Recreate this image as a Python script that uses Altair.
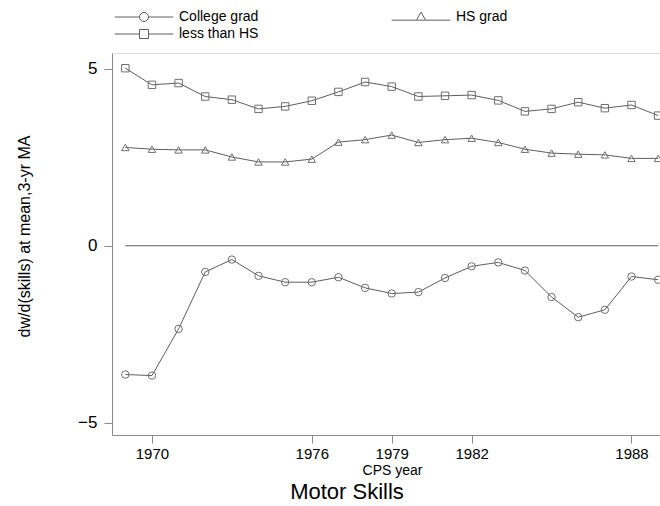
import altair as alt
import pandas as pd

years = list(range(1969, 1990))
college_grad = [-3.64, -3.67, -2.35, -0.74, -0.39, -0.85, -1.03, -1.03, -0.89, -1.19, -1.35,
                -1.31, -0.91, -0.58, -0.47, -0.70, -1.45, -2.02, -1.81, -0.87, -0.96]
hs_grad = [2.78, 2.73, 2.71, 2.71, 2.51, 2.37, 2.37, 2.45, 2.93, 3.00, 3.13,
           2.92, 3.00, 3.04, 2.92, 2.73, 2.62, 2.59, 2.57, 2.47, 2.47]
less_than_hs = [5.02, 4.55, 4.60, 4.22, 4.13, 3.87, 3.94, 4.10, 4.35, 4.63, 4.50,
                4.22, 4.24, 4.26, 4.11, 3.80, 3.87, 4.06, 3.89, 3.98, 3.68]
series_names = ["College grad", "HS grad", "less than HS"]
legend_order = ["College grad", "less than HS", "HS grad"]  # column-major fill -> rows: College/HS, less
x_ticks = [1970, 1976, 1979, 1982, 1988]
y_ticks = [-5, 0, 5]

rows = []
for name, vals in zip(series_names, [college_grad, hs_grad, less_than_hs]):
    for yr, v in zip(years, vals):
        rows.append({"year": yr, "value": v, "series": name})
df = pd.DataFrame(rows)

FONT = "Liberation Sans"
AXIS_COL = "#8a8a8a"
LINE_COL = "#5e5e5e"
MARK_COL = "#6e6e6e"

x_scale = alt.Scale(domain=[1968.5, 1989.07], nice=False, zero=False)
y_scale = alt.Scale(domain=[-5.35, 5.45], nice=False, zero=False)

x_enc = alt.X(
    "year:Q", scale=x_scale,
    axis=alt.Axis(values=x_ticks, format="d", title="CPS year", grid=False,
                  domainColor=AXIS_COL, tickColor=AXIS_COL, tickSize=8,
                  labelFont=FONT, labelFontSize=15, labelColor="black", labelPadding=3,
                  titleFont=FONT, titleFontSize=14, titleFontWeight="normal",
                  titleColor="black", titlePadding=2, titleX=280),
)
y_enc = alt.Y(
    "value:Q", scale=y_scale,
    axis=alt.Axis(values=y_ticks, title="dw/d(skills) at mean,3-yr MA", grid=False,
                  domainColor=AXIS_COL, tickColor=AXIS_COL, tickSize=8,
                  labelFont=FONT, labelFontSize=17, labelColor="black", labelPadding=7,
                  titleFont=FONT, titleFontSize=16, titleFontWeight="normal",
                  titleColor="black", titlePadding=45, titleY=183),
)

base = alt.Chart(df)

zero_rule = base.mark_rule(color=LINE_COL, strokeWidth=1).encode(
    x=alt.X("min(year):Q", scale=x_scale),
    x2="max(year):Q",
    y=alt.datum(0),
)

lines = base.mark_line(color=LINE_COL, strokeWidth=1).encode(
    x=x_enc, y=y_enc, detail="series:N"
)

shape_range = ["circle", "triangle-up", "square"]
points = base.mark_point(filled=False, color=MARK_COL, strokeWidth=1, size=55, opacity=1).encode(
    x=x_enc, y=y_enc,
    shape=alt.Shape("series:N", scale=alt.Scale(domain=series_names, range=shape_range), legend=None),
)

legend_paths = {
    "College grad": "M-6.5,0L-1,0M1,0L6.5,0M-1,0A1,1 0 1,0 1,0A1,1 0 1,0 -1,0",
    "HS grad": "M-6.5,0.7L-1,0.7M1,0.7L6.5,0.7M0,-1.1L1,0.7L-1,0.7Z",
    "less than HS": "M-6.5,0L-1,0M1,0L6.5,0M-1,-1L1,-1L1,1L-1,1Z",
}
legend_layer = base.mark_point(filled=False, color=MARK_COL, strokeWidth=1, opacity=1).encode(
    shape=alt.Shape(
        "series:N",
        scale=alt.Scale(domain=legend_order, range=[legend_paths[n] for n in legend_order]),
        legend=alt.Legend(
            title=None, orient="none", legendX=25, legendY=-43, columns=2,
            columnPadding=130, rowPadding=3, padding=0,
            symbolSize=81, symbolStrokeWidth=1, symbolStrokeColor=LINE_COL,
            symbolFillColor="transparent",
            labelFont=FONT, labelFontSize=14, labelColor="black", labelOffset=28,
            labelLimit=300,
        ),
    ),
).transform_filter("false")

chart = alt.layer(zero_rule, lines, points, legend_layer).resolve_scale(
    shape="independent"
).properties(
    width=548, height=382,
    autosize=alt.AutoSizeParams(type="none"),
    padding={"left": 112, "top": 53, "right": 0, "bottom": 71},
    title=alt.Title("Motor Skills", orient="bottom", anchor="middle", fontSize=22,
                    font=FONT, fontWeight="normal", color="black", dx=-39, offset=5),
).configure_view(stroke=None).configure(background="white")

chart.save("out.html", embed_options={"renderer": "svg", "actions": False})
